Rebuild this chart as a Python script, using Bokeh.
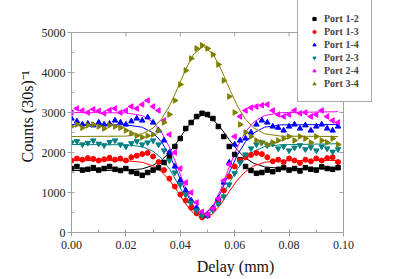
from bokeh.plotting import figure
from bokeh.models import (Range1d, Legend, LegendItem, SingleIntervalTicker,
                          NumeralTickFormatter, Title)
from bokeh.embed import file_html
from bokeh.resources import INLINE
import math

delay = [0.000, 0.002, 0.004, 0.006, 0.008, 0.010, 0.012, 0.014, 0.016, 0.018,
         0.020, 0.022, 0.024, 0.026, 0.028, 0.030, 0.032, 0.034, 0.036, 0.038,
         0.040, 0.042, 0.044, 0.046, 0.048, 0.050, 0.052, 0.054, 0.056, 0.058,
         0.060, 0.062, 0.064, 0.066, 0.068, 0.070, 0.072, 0.074, 0.076, 0.078,
         0.080, 0.082, 0.084, 0.086, 0.088, 0.090, 0.092, 0.094, 0.096, 0.098]

port_12 = [1600, 1650, 1560, 1580, 1620, 1560, 1600, 1650, 1580, 1550,
           1600, 1520, 1480, 1430, 1500, 1560, 1620, 1750, 1900, 2150,
           2350, 2600, 2750, 2900, 2980, 2950, 2850, 2650, 2400, 2150,
           1950, 1820, 1650, 1550, 1480, 1500, 1560, 1520, 1580, 1620,
           1560, 1600, 1540, 1620, 1580, 1560, 1640, 1600, 1580, 1620]

port_13 = [1800, 1850, 1820, 1860, 1840, 1800, 1830, 1870, 1820, 1850,
           1800, 1880, 1920, 1960, 1990, 1900, 1760, 1560, 1350, 1150,
           950, 800, 620, 480, 380, 420, 600, 800, 1050, 1400,
           1650, 1800, 1880, 1940, 1990, 1960, 1880, 1780, 1820, 1760,
           1850, 1800, 1740, 1820, 1780, 1850, 1800, 1860, 1880, 1760]

port_14 = [2850, 2780, 2700, 2720, 2680, 2750, 2700, 2720, 2800, 2750,
           2700, 2780, 2850, 2800, 2880, 2750, 2550, 2300, 2000, 1650,
           1300, 1050, 800, 620, 480, 420, 600, 850, 1250, 1750,
           2200, 2300, 2350, 2500, 2700, 2800, 2750, 2650, 2620, 2550,
           2650, 2700, 2600, 2680, 2550, 2650, 2700, 2600, 2550, 2650]

port_23 = [2250, 2280, 2200, 2240, 2300, 2220, 2180, 2260, 2300, 2200,
           2150, 2230, 2280, 2200, 2250, 2300, 2200, 2050, 1800, 1500,
           1200, 950, 750, 550, 420, 430, 560, 720, 900, 1200,
           1480, 1750, 1950, 2100, 2200, 2250, 2180, 2220, 2100, 2150,
           2050, 2120, 2180, 2080, 2130, 2050, 2150, 2100, 2020, 2080]

port_24 = [3000, 3100, 3050, 3000, 3080, 3040, 2980, 3060, 3100, 3000,
           3050, 3150, 3100, 3200, 3300, 3150, 3050, 2800, 2450, 2000,
           1600, 1250, 1000, 750, 520, 450, 600, 850, 1300, 1700,
           2400, 2900, 3050, 3120, 3150, 3180, 3200, 3050, 2950, 2900,
           2950, 3050, 2980, 3000, 2900, 2950, 3050, 2900, 2800, 2750]

port_34 = [2650, 2700, 2620, 2680, 2700, 2650, 2600, 2680, 2650, 2620,
           2550, 2480, 2420, 2380, 2420, 2450, 2550, 2750, 2950, 3300,
           3700, 4050, 4350, 4600, 4680, 4600, 4450, 4200, 3800, 3400,
           3000, 2700, 2500, 2400, 2300, 2250, 2200, 2250, 2300, 2350,
           2400, 2300, 2400, 2350, 2250, 2400, 2300, 2250, 2350, 2200]

fit_delay = [0.000, 0.020, 0.026, 0.030, 0.033, 0.036, 0.039, 0.042, 0.045, 0.0485,
             0.052, 0.055, 0.058, 0.061, 0.064, 0.067, 0.071, 0.077, 0.098]
fit_12 = [1550, 1555, 1590, 1680, 1800, 2000, 2280, 2580, 2830, 2950,
          2830, 2600, 2320, 2060, 1860, 1730, 1640, 1605, 1600]
fit_13 = [1800, 1795, 1755, 1665, 1525, 1310, 1025, 715, 470, 350,
          470, 715, 1025, 1310, 1525, 1665, 1755, 1795, 1800]
fit_14 = [2700, 2691, 2633, 2489, 2273, 1937, 1496, 1019, 632, 450,
          632, 1019, 1496, 1937, 2273, 2489, 2633, 2691, 2700]
fit_23 = [2200, 2193, 2146, 2031, 1858, 1590, 1237, 855, 546, 400,
          546, 855, 1237, 1590, 1858, 2031, 2146, 2193, 2220]
fit_24 = [3000, 2990, 2924, 2760, 2516, 2136, 1636, 1095, 657, 450,
          657, 1095, 1636, 2136, 2516, 2760, 2924, 2995, 3020]
fit_34 = [2400, 2409, 2468, 2612, 2828, 3163, 3604, 4081, 4468, 4650,
          4468, 4081, 3604, 3163, 2828, 2612, 2468, 2409, 2400]

labels = ["Port 1-2", "Port 1-3", "Port 1-4", "Port 2-3", "Port 2-4", "Port 3-4"]
colors = ["#000000", "#ff0000", "#0000ff", "#008080", "#ff00ff", "#808000"]

x_lim = [0.0, 0.10]
y_lim = [0, 5000]
x_ticks_top = [0.02, 0.04, 0.06, 0.08]
y_ticks_right = [1000, 2000, 3000, 4000]

SERIF = "Liberation Serif"
AX = "#a0a0a0"

# frame is widened/heightened so that the legend (which overhangs the plot box) is not clipped
p = figure(width=399, height=279, output_backend="svg", toolbar_location=None,
           x_range=Range1d(0.0, 0.1206), y_range=Range1d(0, 5800),
           min_border_left=71, min_border_right=0, min_border_top=0, min_border_bottom=47)
p.grid.visible = False
p.outline_line_color = None
p.background_fill_color = "white"
p.border_fill_color = "white"

for ax in (p.xaxis[0], p.yaxis[0]):
    ax.axis_line_color = AX
    ax.major_tick_line_color = AX
    ax.minor_tick_line_color = AX
    ax.major_tick_out = 4
    ax.major_tick_in = 0
    ax.minor_tick_in = 3
    ax.minor_tick_out = 0
    ax.major_label_text_font = SERIF
    ax.major_label_text_font_size = "12px"
    ax.major_label_text_color = "#222222"

p.xaxis[0].ticker = SingleIntervalTicker(interval=0.02, num_minor_ticks=2)
p.xaxis[0].formatter = NumeralTickFormatter(format="0.00")
p.xaxis[0].bounds = (x_lim[0], x_lim[1])
p.xaxis[0].major_label_standoff = 4
p.xaxis[0].axis_label = "Delay (mm)"
p.xaxis[0].axis_label_standoff = 6
p.xaxis[0].axis_label_text_font = SERIF
p.xaxis[0].axis_label_text_font_size = "16px"
p.xaxis[0].axis_label_text_font_style = "normal"
p.xaxis[0].axis_label_text_color = "#111111"
p.yaxis[0].ticker = SingleIntervalTicker(interval=1000, num_minor_ticks=2)
p.yaxis[0].formatter = NumeralTickFormatter(format="0")
p.yaxis[0].bounds = (y_lim[0], y_lim[1])
p.yaxis[0].major_label_standoff = 2

ylabel = Title(text="Counts (30s)\u207b\u00b9", align="center", standoff=5,
               text_font=SERIF, text_font_size="16px", text_font_style="normal",
               text_color="#111111")
p.add_layout(ylabel, "left")

# top and right sides of the plot box
p.segment(x0=[x_lim[0]], y0=[y_lim[1]], x1=[x_lim[1]], y1=[y_lim[1]], line_color=AX, line_width=1)
p.segment(x0=[x_lim[1]], y0=[y_lim[0]], x1=[x_lim[1]], y1=[y_lim[1]], line_color=AX, line_width=1)
p.ray(x=x_ticks_top, y=[y_lim[1]] * len(x_ticks_top), length=4, length_units="screen",
      angle=-math.pi / 2, line_color=AX, line_width=1)
p.ray(x=[x_lim[1]] * len(y_ticks_right), y=y_ticks_right, length=4, length_units="screen",
      angle=math.pi, line_color=AX, line_width=1)

series = [port_12, port_13, port_14, port_23, port_24, port_34]
fits = [fit_12, fit_13, fit_14, fit_23, fit_24, fit_34]
markers = ["square", "circle", "triangle", "inverted_triangle", "triangle", "triangle"]
angles = [0, 0, 0, 0, math.pi / 2, -math.pi / 2]
sizes = [4.5, 5, 5.5, 5.5, 5.5, 5.5]

for f, c in zip(fits, colors):
    p.line(fit_delay, f, line_color=c, line_width=1)

items = []
for s, c, m, a, sz, lab in zip(series, colors, markers, angles, sizes, labels):
    r = p.scatter(delay, s, marker=m, angle=a, size=sz, fill_color=c, line_color=c)
    items.append(LegendItem(label=lab, renderers=[r]))

legend = Legend(items=items, location=(226, 130), padding=12, spacing=1,
                glyph_width=8, glyph_height=9, label_height=12, label_standoff=6,
                label_text_font=SERIF, label_text_font_size="10px", label_text_font_style="bold",
                border_line_color="#555555", border_line_width=1,
                background_fill_color="white", background_fill_alpha=1.0, margin=0)
p.add_layout(legend, "center")

open("out.html", "w").write(file_html(p, INLINE))
